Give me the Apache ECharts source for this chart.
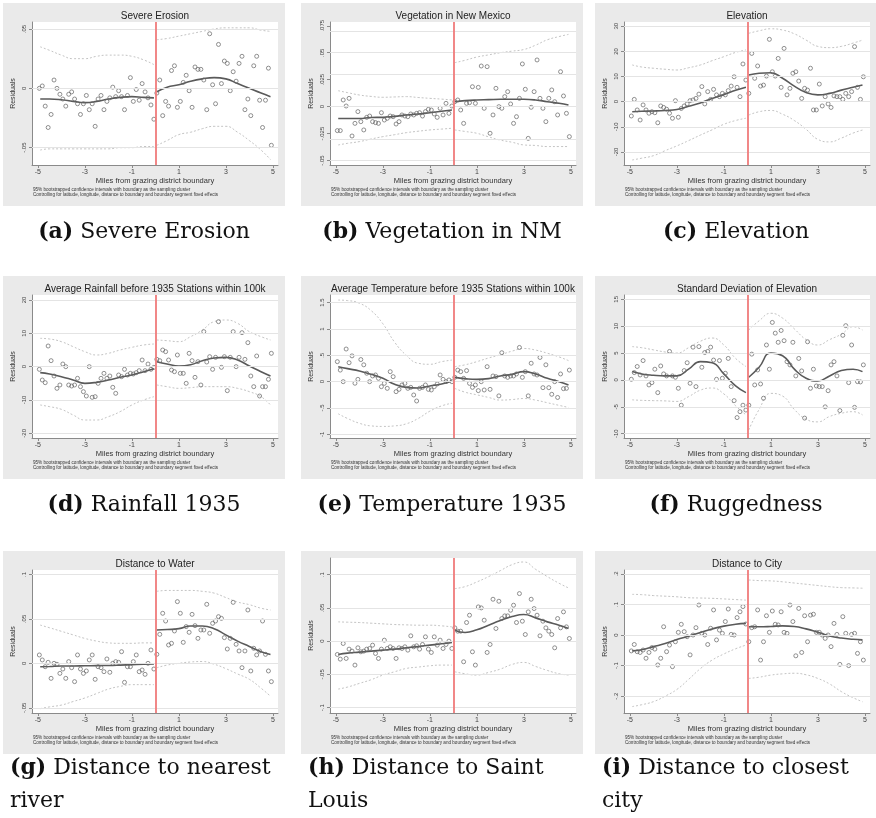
<!DOCTYPE html>
<html>
<head>
<meta charset="utf-8">
<script src="https://cdn.jsdelivr.net/npm/echarts@6/dist/echarts.min.js"></script>
<style>
  html, body { margin: 0; padding: 0; background: #fff; }
  #chart { width: 876px; height: 818px; }
</style>
</head>
<body>
<div id="chart"></div>
<script>
// bin centres (miles from boundary), shared by all panels
const binsL = [-4.9375,-4.8125,-4.6875,-4.5625,-4.4375,-4.3125,-4.1875,-4.0625,-3.9375,-3.8125,
  -3.6875,-3.5625,-3.4375,-3.3125,-3.1875,-3.0625,-2.9375,-2.8125,-2.6875,-2.5625,
  -2.4375,-2.3125,-2.1875,-2.0625,-1.9375,-1.8125,-1.6875,-1.5625,-1.4375,-1.3125,
  -1.1875,-1.0625,-0.9375,-0.8125,-0.6875,-0.5625,-0.4375,-0.3125,-0.1875,-0.0625];
const binsR = [0.0625,0.1875,0.3125,0.4375,0.5625,0.6875,0.8125,0.9375,1.0625,1.1875,
  1.3125,1.4375,1.5625,1.6875,1.8125,1.9375,2.0625,2.1875,2.3125,2.4375,
  2.5625,2.6875,2.8125,2.9375,3.0625,3.1875,3.3125,3.4375,3.5625,3.6875,
  3.8125,3.9375,4.0625,4.1875,4.3125,4.4375,4.5625,4.6875,4.8125,4.9375];
// x positions of the fitted lines and confidence bands
const fitXL = [-4.9,-4.5,-4,-3.5,-3,-2.5,-2,-1.5,-1,-0.5,-0.06];
const fitXR = [0.06,0.5,1,1.5,2,2.5,3,3.5,4,4.5,4.9];
const xTicks = [-5,-3,-1,1,3,5];

// (a) Severe Erosion
const aLeft = [0,.002,-.015,-.033,-.022,.007,0,-.005,-.009,-.015,-.005,-.003,-.009,-.013,-.022,-.013,-.006,-.018,-.013,-.032,
  -.009,-.006,-.018,-.011,-.008,.001,-.007,-.002,-.007,-.018,-.006,.009,-.011,-.001,-.010,.004,-.003,-.008,-.014,-.026];
const aRight = [-.004,.007,-.023,-.011,-.015,.015,.019,-.016,-.011,.005,.011,-.002,-.016,.018,.016,.016,.007,-.018,.046,.003,
  -.013,.037,.004,.023,.021,-.002,.014,.006,.021,.027,-.018,-.009,-.023,.019,.027,-.010,-.033,-.010,.017,-.048];
const aFitL = [-.009,-.009,-.0096,-.011,-.012,-.011,-.009,-.0076,-.007,-.0076,-.008];
const aFitR = [-.003,.001,.003,.006,.008,.009,.008,.004,0,-.004,-.007];
const aHiL = [.035,.032,.028,.025,.025,.027,.028,.028,.027,.024,.02];
const aLoL = [-.052,-.051,-.051,-.051,-.051,-.051,-.051,-.050,-.050,-.049,-.049];
const aHiR = [.041,.042,.044,.046,.048,.050,.051,.051,.051,.049,.048];
const aLoR = [-.048,-.044,-.039,-.037,-.034,-.032,-.032,-.037,-.044,-.052,-.060];
const aTicks = [-.05,0,.05];

// (b) Vegetation in New Mexico
const bLeft = [-.0222,-.0222,.0062,.0006,.0077,-.0272,-.0155,-.0046,-.0139,-.0216,-.0099,-.0087,-.0139,-.0148,-.0155,-.0056,-.0124,-.0108,-.0087,-.0093,
  -.0161,-.0139,-.0077,-.0087,-.0093,-.0068,-.0077,-.0062,-.0056,-.0087,-.0046,-.0025,-.0031,-.0068,-.0099,-.0015,-.0077,.0031,-.0062,.0006];
const bRight = [.0046,.0062,-.0031,-.0155,.0031,.0037,.0185,.0031,.0179,.0377,-.0015,.0371,-.0247,-.0077,.017,0,-.0015,.0093,.0139,.0025,
  -.0155,-.0093,.0077,.0396,.0161,-.0294,-.0006,.0139,.0433,.0077,-.0015,-.0139,.0077,.0155,.0046,-.0077,.0324,.0099,-.0062,-.0278];
const bFitL = [-.011,-.011,-.011,-.010,-.0099,-.009,-.0077,-.0068,-.0056,-.0043,-.0031];
const bFitR = [.0046,.0056,.0062,.0065,.0068,.0068,.0068,.0062,.0046,.0031,.0015];
const bHiL = [.0148,.013,.0108,.0095,.0087,.009,.0093,.0085,.0077,.007,.0062];
const bLoL = [-.0355,-.034,-.0324,-.030,-.0278,-.026,-.0241,-.0228,-.0216,-.0208,-.020];
const bHiR = [.0408,.043,.046,.048,.050,.0515,.053,.057,.062,.065,.067];
const bLoR = [-.0216,-.023,-.0247,-.028,-.031,-.033,-.0355,-.036,-.037,-.037,-.037];
const bTicks = [-.05,-.025,0,.025,.05,.075];

// (c) Elevation
const cLeft = [-5.7,.9,-3.3,-7.3,-1.3,-3.3,-4.6,-4.0,-4.4,-8.4,-1.7,-2.3,-3.0,-4.6,-6.6,.4,-6.2,-2.7,-1.7,-.9,
  .4,.7,1.3,3.0,6.0,-.9,4.0,.9,4.9,2.7,2.0,3.3,2.7,4.4,6.2,9.9,5.7,2.0,15.0,8.6];
const cRight = [3.3,19.2,9.3,14.2,6.2,6.6,10.2,24.8,11.9,10.2,17.2,5.7,21.2,2.7,5.3,11.3,11.9,8.2,1.3,5.3,
  4.6,13.3,-3.3,-3.3,7.0,-1.7,2.0,-.9,-2.3,2.3,2.0,2.0,.9,3.3,2.0,4.0,21.9,5.7,.9,9.9];
const cFitL = [-4.0,-3.8,-3.7,-3.5,-3.1,-1.8,-.5,1.3,2.8,4.5,5.7];
const cFitR = [10.6,11.3,11.5,9.3,6.2,3.6,2.7,3.3,4.6,5.7,6.6];
const cHiL = [14.6,13.8,13.3,12.9,12.6,13.5,14.6,16.3,17.9,19.6,20.6];
const cLoL = [-23.2,-22.5,-21.5,-19.5,-17.6,-15.5,-13.3,-11.2,-9.0,-7.5,-6.6];
const cHiR = [27.2,28.2,29.0,28.5,27.0,24.5,22,21.5,22,23.3,24.5];
const cLoR = [-5.3,-4,-3.5,-5,-7.5,-11,-15,-16,-14.5,-12.5,-11.3];
const cTicks = [-20,-10,0,10,20,30];

// (d) Rainfall 1935
const dLeft = [-.8,-4.0,-4.8,6.2,1.8,-2.8,-6.5,-5.5,.8,0,-5.5,-5.8,-5.5,-3.5,-6.0,-7.5,-8.8,0,-9.2,-9.0,
  -5.0,-3.5,-2.0,-3.5,-2.8,-6.2,-8.0,-2.5,-3.0,-.8,-2.5,-2.0,-2.2,-1.8,-1.2,2.0,-1.2,.8,-.8,-.2];
const dRight = [2.2,1.8,5.0,4.5,2.0,-1.0,-1.5,3.5,-2.0,-2.0,-5.0,4.0,1.8,-3.2,1.5,-5.5,10.5,1.4,3.0,-.8,
  2.8,13.5,-.2,3.0,-7.2,2.8,10.5,0,2.8,10.2,2.2,7.2,-2.8,-6.0,3.2,-8.8,-6.0,-6.0,-3.8,4.0];
const dFitL = [-1.8,-2.2,-3.0,-4.0,-5.0,-4.7,-4.0,-3.2,-2.5,-1.5,-.6];
const dFitR = [1.5,.8,.2,.6,1.8,2.6,2.8,2.0,.2,-1.5,-2.8];
const dHiL = [8.5,8.3,7.5,6.0,4.5,3.5,4.0,5.0,5.8,6.5,6.8];
const dLoL = [-11.5,-12,-12.8,-14.5,-16,-16,-15,-13.5,-11.5,-10,-9];
const dHiR = [8,7.8,7.5,9,11,13.5,14,13,10.5,9,8];
const dLoR = [-5.5,-6,-6.5,-6.3,-6,-6,-6,-6.5,-7.5,-9,-11.5];
const dTicks = [-20,-10,0,10,20];

// (e) Temperature 1935
const eLeft = [.38,.22,0,.62,.36,.49,-.03,.044,.42,.32,.16,0,.108,.127,.063,-.095,-.032,-.127,.19,.095,
  -.19,-.146,-.063,-.032,-.127,-.108,-.253,-.367,-.127,-.108,-.063,-.146,-.158,-.095,-.044,.127,.044,0,.032,0];
const eRight = [.082,.22,.19,.063,.21,-.032,-.108,-.063,-.17,0,-.158,.285,-.146,.108,.095,-.27,.55,.108,.082,.108,
  .108,.146,.65,.082,.19,-.27,.35,.146,.127,.46,-.114,.32,-.114,-.24,0,-.30,.146,-.133,-.127,.22];
const eFitL = [.285,.247,.203,.139,.063,-.051,-.108,-.12,-.082,-.044,.013];
const eFitR = [.082,.057,.044,.057,.108,.139,.19,.146,.063,0,-.063];
const eHiL = [1.55,1.54,1.49,1.35,1.10,.75,.50,.35,.33,.38,.41];
const eLoL = [-.61,-.70,-.79,-.84,-.85,-.84,-.80,-.70,-.56,-.46,-.41];
const eHiR = [.285,.32,.38,.45,.51,.58,.63,.60,.54,.47,.40];
const eLoR = [-.127,-.20,-.25,-.30,-.35,-.34,-.32,-.35,-.40,-.45,-.49];
const eTicks = [-1,-.5,0,.5,1,1.5];

// (f) Ruggedness
const fLeft = [.12,1.37,2.5,.93,3.6,.75,-.93,-.5,2.0,-2.36,2.6,1.12,.75,5.3,.75,.5,-1.55,-4.7,1.74,3.2,
  -.62,6.1,-1.24,6.2,2.36,5.1,5.3,6.1,3.7,.12,3.6,.31,1.24,4.0,-1.24,-3.85,-7.0,-5.9,-4.7,-5.6];
const fRight = [-4.7,4.8,-.93,1.86,-.75,-3.4,6.5,2.0,10.7,8.7,7.0,9.2,7.3,3.4,2.8,7.0,.75,4.0,1.68,-7.1,
  7.1,-1.55,2.0,-1.12,-1.24,-1.24,-5.0,-2.0,2.8,3.4,.75,-5.7,8.3,10.1,-.5,6.5,-5.1,-.31,-.37,2.8];
const fFitL = [1.55,1.12,.87,.75,.75,2.0,3.4,3.2,1.12,-1.12,-2.36];
const fFitR = [.5,2.36,5.0,4.5,2.0,.31,-.19,.75,1.74,2.0,1.55];
const fHiL = [6.2,6.0,5.6,5.2,5.0,6.0,7.2,7.8,6.5,4.0,2.5];
const fLoL = [-3.7,-3.8,-3.85,-3.9,-4.0,-3.1,-1.9,-1.5,-2.6,-4.8,-6.5];
const fHiR = [9.3,11,12.4,11.5,9.5,7.5,6.5,7.5,8.5,9.9,9.3];
const fLoR = [-9.3,-5.5,-2.5,-3,-5.5,-7.3,-7.8,-6.8,-6.2,-5.9,-6.5];
const fTicks = [-10,-5,0,5,10,15];

// (g) Distance to nearest river
const gLeft = [.0094,.0038,-.0038,.0011,-.0169,0,-.0011,-.0113,-.0064,-.0169,.0019,-.0049,-.0206,.0094,-.0064,-.0113,-.0086,.0038,.0094,-.018,
  -.0038,-.0049,-.0094,.0049,-.0101,0,.0019,.0011,.0131,-.0214,-.0038,-.0038,.0019,.0094,-.0094,-.0075,-.0124,0,.015,-.0064];
const gRight = [.0101,.0326,.0563,.0476,.0206,.0225,.0364,.0694,.0563,.0236,.0413,.0349,.0551,.0424,.0281,.0375,.0375,.0664,.0338,.045,
  .0476,.0525,.0506,.0289,.0161,.0281,.0686,.0214,.0139,-.0049,.0139,.06,-.0086,.0169,.0094,.0139,.0476,.0101,-.0086,-.0206];
const gFitL = [-.0038,-.0035,-.003,-.003,-.0028,-.0026,-.0024,-.002,-.0015,-.001,-.0008];
const gFitR = [.0375,.038,.039,.042,.042,.039,.032,.025,.019,.013,.010];
const gHiL = [.043,.040,.036,.032,.028,.025,.023,.0225,.0225,.023,.023];
const gLoL = [-.051,-.049,-.047,-.043,-.039,-.034,-.029,-.026,-.024,-.024,-.024];
const gHiR = [.081,.082,.082,.082,.081,.079,.074,.069,.066,.062,.060];
const gLoR = [-.005,-.002,0,.0015,.002,-.001,-.006,-.012,-.018,-.028,-.037];
const gTicks = [-.05,0,.05,.1];

// (h) Distance to Saint Louis
const hLeft = [-.020,-.027,-.0035,-.026,-.012,-.015,-.036,-.010,-.016,-.015,-.012,-.011,-.006,-.0185,-.026,-.012,.0015,-.011,-.0085,-.011,
  -.026,-.010,-.011,-.0085,-.0135,.008,-.0085,-.007,-.012,-.005,.0065,-.012,-.017,.0065,-.006,.0015,-.011,-.005,0,-.011];
const hRight = [.020,.015,.015,-.031,.028,.039,-.016,-.036,.0515,.050,.0315,-.017,-.005,.063,.019,.060,.034,.038,.038,.0465,
  .054,.028,.0715,.030,.010,.044,.063,.049,.039,.008,.030,.020,.015,.010,-.010,.034,.020,.044,.0215,.004];
const hFitL = [-.020,-.018,-.0165,-.015,-.0135,-.012,-.010,-.008,-.006,-.004,-.002];
const hFitR = [.0165,.013,.017,.024,.031,.037,.040,.035,.029,.024,.019];
const hHiL = [.029,.0285,.028,.027,.026,.025,.0245,.024,.024,.023,.0215];
const hLoL = [-.072,-.069,-.0635,-.058,-.051,-.046,-.041,-.039,-.037,-.036,-.036];
const hHiR = [.079,.082,.089,.097,.106,.115,.119,.108,.097,.087,.080];
const hLoR = [-.046,-.049,-.051,-.047,-.042,-.035,-.032,-.038,-.044,-.049,-.051];
const hTicks = [-.1,-.05,0,.05,.1];

// (i) Distance to closest city
const iLeft = [-.052,-.031,-.0545,-.057,-.049,-.076,-.057,-.041,-.046,-.098,-.076,.027,-.0545,-.033,-.1035,-.022,.0087,.035,.011,-.0055,
  -.065,0,.024,.098,.0055,0,-.031,.022,.082,-.016,.016,.0055,.044,.085,.002,0,.057,.076,.093,.036];
const iRight = [-.022,.024,.027,.082,-.082,-.022,.063,.0087,.0785,.035,.033,.076,.0087,.0055,.098,.044,-.068,.087,-.057,.063,
  -.022,.065,.068,.0087,.0087,0,-.011,0,-.038,.038,.002,-.096,.060,.0055,-.100,.002,.0055,-.060,-.022,-.082];
const iFitL = [-.052,-.048,-.038,-.028,-.015,-.004,.008,.02,.029,.035,.038];
const iFitR = [.027,.027,.028,.030,.028,.020,.009,-.003,-.010,-.014,-.016];
const iHiL = [.133,.132,.129,.127,.125,.122,.121,.12,.118,.116,.114];
const iLoL = [-.234,-.228,-.218,-.200,-.178,-.145,-.11,-.082,-.062,-.045,-.033];
const iHiR = [.180,.178,.177,.174,.170,.166,.162,.158,.155,.154,.153];
const iLoR = [-.142,-.138,-.131,-.127,-.125,-.13,-.142,-.16,-.185,-.205,-.218];
const iTicks = [-.2,-.1,0,.1,.2];

const titles = ['Severe Erosion', 'Vegetation in New Mexico', 'Elevation',
  'Average Rainfall before 1935 Stations within 100k', 'Average Temperature before 1935 Stations within 100k',
  'Standard Deviation of Elevation', 'Distance to Water', '', 'Distance to City'];
const tags = ['(a)', '(b)', '(c)', '(d)', '(e)', '(f)', '(g)', '(h)', '(i)'];
const captions = [['Severe Erosion'], ['Vegetation in NM'], ['Elevation'],
  ['Rainfall 1935'], ['Temperature 1935'], ['Ruggedness'],
  ['Distance to nearest', 'river'], ['Distance to Saint', 'Louis'], ['Distance to closest', 'city']];
const noteLines = ['95% bootstrapped confidence intervals with boundary as the sampling cluster',
  'Controlling for latitude, longitude, distance to boundary and boundary segment fixed effects'];

const panels = [
  { ptsL: aLeft, ptsR: aRight, fitL: aFitL, fitR: aFitR, hiL: aHiL, loL: aLoL, hiR: aHiR, loR: aLoR, ticks: aTicks, min: -.0646, max: .0559 },
  { ptsL: bLeft, ptsR: bRight, fitL: bFitL, fitR: bFitR, hiL: bHiL, loL: bLoL, hiR: bHiR, loR: bLoR, ticks: bTicks, min: -.0541, max: .0785 },
  { ptsL: cLeft, ptsR: cRight, fitL: cFitL, fitR: cFitR, hiL: cHiL, loL: cLoL, hiR: cHiR, loR: cLoR, ticks: cTicks, min: -25.2, max: 31.7 },
  { ptsL: dLeft, ptsR: dRight, fitL: dFitL, fitR: dFitR, hiL: dHiL, loL: dLoL, hiR: dHiR, loR: dLoR, ticks: dTicks, min: -21.4, max: 21.5 },
  { ptsL: eLeft, ptsR: eRight, fitL: eFitL, fitR: eFitR, hiL: eHiL, loL: eLoL, hiR: eHiR, loR: eLoR, ticks: eTicks, min: -1.07, max: 1.646 },
  { ptsL: fLeft, ptsR: fRight, fitL: fFitL, fitR: fFitR, hiL: fHiL, loL: fLoL, hiR: fHiR, loR: fLoR, ticks: fTicks, min: -10.8, max: 15.8 },
  { ptsL: gLeft, ptsR: gRight, fitL: gFitL, fitR: gFitR, hiL: gHiL, loL: gLoL, hiR: gHiR, loR: gLoR, ticks: gTicks, min: -.0559, max: .105 },
  { ptsL: hLeft, ptsR: hRight, fitL: hFitL, fitR: hFitR, hiL: hHiL, loL: hLoL, hiR: hHiR, loR: hLoR, ticks: hTicks, min: -.108, max: .125 },
  { ptsL: iLeft, ptsR: iRight, fitL: iFitL, fitR: iFitR, hiL: iHiL, loL: iLoL, hiR: iHiR, loR: iLoR, ticks: iTicks, min: -.255, max: .2126 }
];

const colLeft = [3, 301, 595];
const rowTop = [3, 276, 551];
const panelW = 282, panelH = 203;
const sans = '"Liberation Sans", Arial, sans-serif';
const serif = '"DejaVu Serif", serif';

// Stata style tick labels: .05, -.05, 1.5
const stataNum = v => String(+(+v).toFixed(4)).replace(/^(-?)0\./, '$1.');
const pairs = (xs, ys) => xs.map((x, k) => [x, ys[k]]);

const grids = [], xAxes = [], yAxes = [], series = [], graphics = [];

panels.forEach((p, i) => {
  const bx = colLeft[i % 3], by = rowTop[Math.floor(i / 3)];
  const noTitle = titles[i] === '';
  const gTop = noTitle ? by + 7 : by + 19;
  const gH = noTitle ? 155 : 143;
  const gLeft = bx + 29, gW = 246;

  grids.push({ left: gLeft, top: gTop, width: gW, height: gH, containLabel: false });

  graphics.push({ type: 'rect', z: -10, shape: { x: bx, y: by, width: panelW, height: panelH }, style: { fill: '#eaeaea' } });
  graphics.push({ type: 'rect', z: -9, shape: { x: gLeft, y: gTop, width: gW, height: gH }, style: { fill: '#ffffff' } });
  if (!noTitle) {
    graphics.push({ type: 'text', z: 5, style: { text: titles[i], x: gLeft + gW / 2, y: by + 13, align: 'center', verticalAlign: 'middle', fontSize: 10, fontFamily: sans, fill: '#222' } });
  }
  noteLines.forEach((t, k) => {
    graphics.push({ type: 'text', z: 5, style: { text: t, x: bx + 30, y: by + 187 + 5 * k, verticalAlign: 'middle', fontSize: 4.6, fontFamily: sans, fill: '#333' } });
  });

  const cap = captions[i];
  const rich = { b: { fontWeight: 'bold', fontSize: 22, fontFamily: serif, fill: '#111' } };
  if (cap.length === 1) {
    graphics.push({ type: 'text', z: 5, style: { text: '{b|' + tags[i] + '} ' + cap[0], rich, x: bx + panelW / 2, y: by + 229, align: 'center', verticalAlign: 'middle', fontSize: 22, fontFamily: serif, fill: '#111' } });
  } else {
    graphics.push({ type: 'text', z: 5, style: { text: '{b|' + tags[i] + '} ' + cap[0], rich, x: bx + 7, y: by + 217, align: 'left', verticalAlign: 'middle', fontSize: 22, fontFamily: serif, fill: '#111' } });
    graphics.push({ type: 'text', z: 5, style: { text: cap[1], x: bx + 7, y: by + 250, align: 'left', verticalAlign: 'middle', fontSize: 22, fontFamily: serif, fill: '#111' } });
  }

  xAxes.push({
    gridIndex: i, type: 'value', min: -5.25, max: 5.22,
    name: 'Miles from grazing district boundary', nameLocation: 'middle', nameGap: 12,
    nameTextStyle: { fontSize: 7.5, color: '#333', fontFamily: sans },
    axisLine: { show: true, onZero: false, lineStyle: { color: '#8a8a8a', width: 1 } },
    axisTick: { show: true, customValues: xTicks, length: 3, lineStyle: { color: '#8a8a8a' } },
    axisLabel: { customValues: xTicks, fontSize: 7, color: '#444', margin: 4, fontFamily: sans },
    splitLine: { show: false }
  });
  yAxes.push({
    gridIndex: i, type: 'value', min: p.min, max: p.max,
    name: 'Residuals', nameLocation: 'middle', nameGap: 15,
    nameTextStyle: { fontSize: 7, color: '#333', fontFamily: sans },
    axisLine: { show: true, onZero: false, lineStyle: { color: '#8a8a8a', width: 1 } },
    axisTick: { show: true, customValues: p.ticks, length: 3, lineStyle: { color: '#8a8a8a' } },
    axisLabel: { customValues: p.ticks, rotate: 90, fontSize: 6, color: '#444', margin: 5, fontFamily: sans, formatter: stataNum },
    splitLine: { show: false }
  });

  // horizontal grid lines and the boundary line
  series.push({
    type: 'line', xAxisIndex: i, yAxisIndex: i, data: [], z: 1, silent: true,
    markLine: {
      silent: true, symbol: ['none', 'none'], label: { show: false }, animation: false,
      data: p.ticks.map(v => ({ yAxis: v, lineStyle: { color: '#e4e4e4', width: 1, type: 'solid' } }))
        .concat([{ xAxis: 0, lineStyle: { color: '#f07b7b', width: 1.8, type: 'solid' } }])
    }
  });

  const ciStyle = { color: '#c4c4c4', width: 1, type: [2, 2] };
  [[p.hiL, fitXL], [p.loL, fitXL], [p.hiR, fitXR], [p.loR, fitXR]].forEach(([ys, xs]) => {
    series.push({ type: 'line', xAxisIndex: i, yAxisIndex: i, data: pairs(xs, ys), smooth: 0.5, showSymbol: false, z: 2, lineStyle: ciStyle, silent: true });
  });
  [[p.fitL, fitXL], [p.fitR, fitXR]].forEach(([ys, xs]) => {
    series.push({ type: 'line', xAxisIndex: i, yAxisIndex: i, data: pairs(xs, ys), smooth: 0.5, showSymbol: false, z: 3, lineStyle: { color: '#5a5a5a', width: 1.6 }, silent: true });
  });
  series.push({
    type: 'scatter', xAxisIndex: i, yAxisIndex: i, z: 4, silent: true,
    data: pairs(binsL, p.ptsL).concat(pairs(binsR, p.ptsR)),
    symbol: 'circle', symbolSize: 4,
    itemStyle: { color: 'rgba(0,0,0,0)', borderColor: '#666', borderWidth: 0.9 }
  });
});

const chart = echarts.init(document.getElementById('chart'), null, { renderer: 'canvas' });
chart.setOption({
  animation: false,
  backgroundColor: '#ffffff',
  grid: grids,
  xAxis: xAxes,
  yAxis: yAxes,
  graphic: { elements: graphics },
  series: series
});
</script>
</body>
</html>
